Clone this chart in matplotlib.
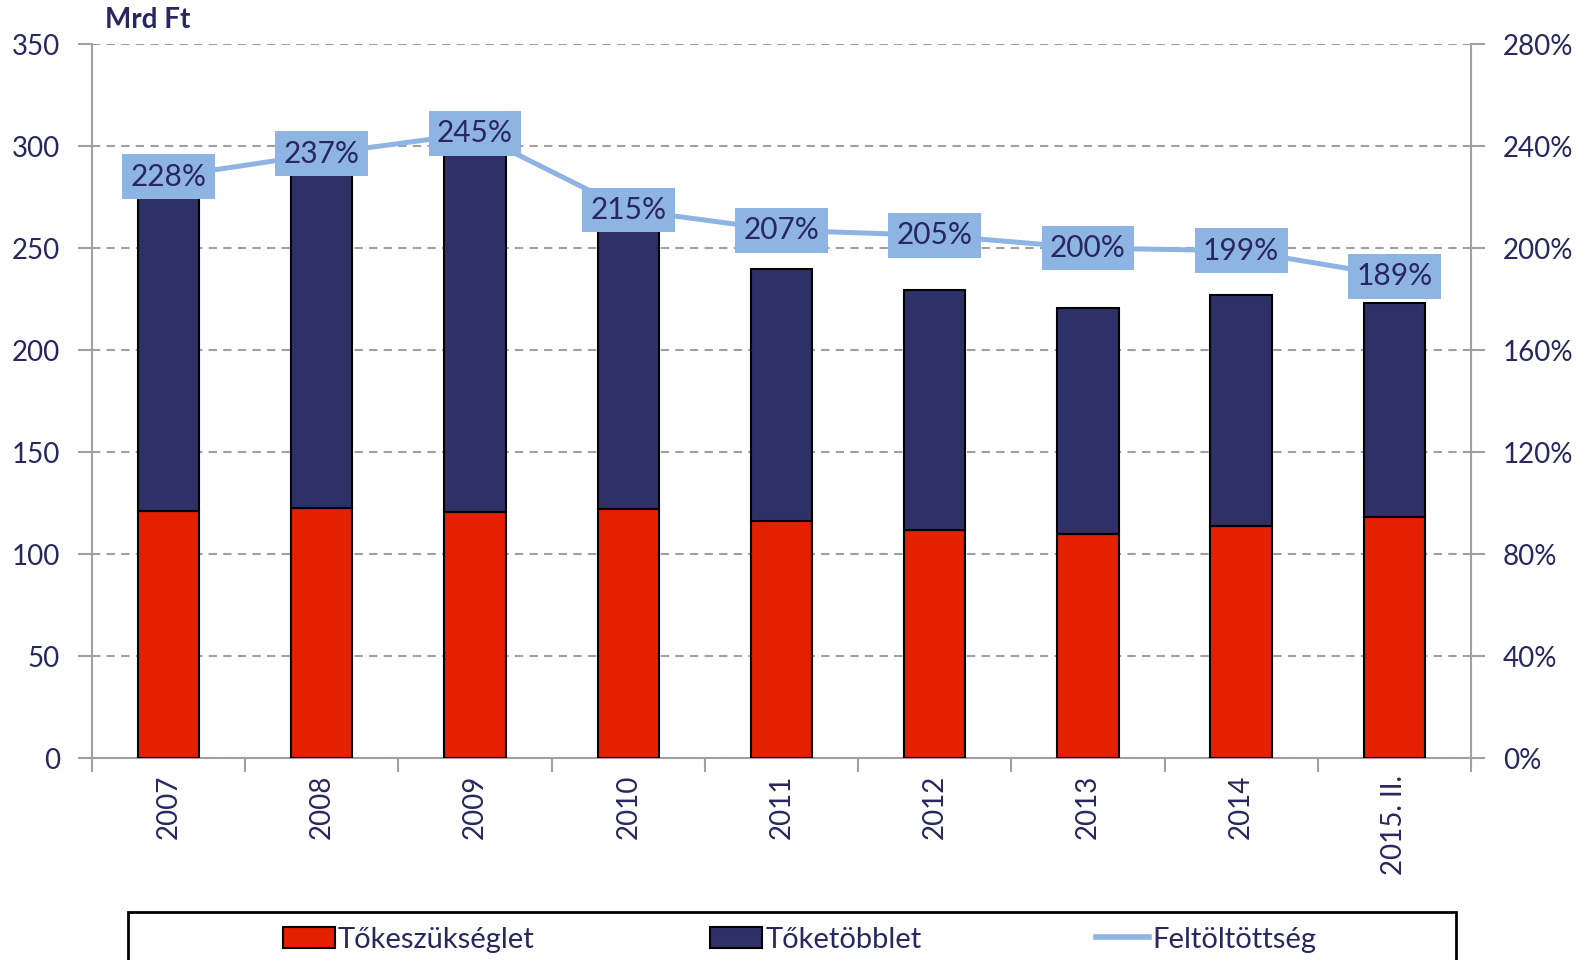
import numpy as np
import matplotlib.pyplot as plt
from matplotlib.patches import Patch, Rectangle
from matplotlib.lines import Line2D

# Data
years = ["2007", "2008", "2009", "2010", "2011", "2012", "2013", "2014", "2015. II."]
tokeszukseglet = [121, 122.5, 120.5, 122, 116, 112, 110, 114, 118]
toketobblet = [155, 168, 175, 140, 124, 117.5, 110.5, 113, 105]
feltoltottseg = [228, 237, 245, 215, 207, 205, 200, 199, 189]

RED = "#E32000"
NAVY = "#2E3068"
LIGHT = "#8DB4E2"
TEXT = "#28275E"
GRAY = "#A0A0A0"

plt.rcParams["font.family"] = ["Lato", "DejaVu Sans"]

fig = plt.figure(figsize=(15.89, 9.6), dpi=100)
ax = fig.add_axes([0.0579, 0.2104, 0.8678, 0.7436])

x = np.arange(len(years))
ax.bar(x, tokeszukseglet, width=0.4, color=RED, edgecolor="black", linewidth=1.5, zorder=3)
ax.bar(x, toketobblet, width=0.4, bottom=tokeszukseglet, color=NAVY,
       edgecolor="black", linewidth=1.5, zorder=3)

ax.set_xlim(-0.5, len(years) - 0.5)
ax.set_ylim(0, 350)
ax.set_yticks(range(0, 351, 50))
ax.yaxis.grid(True, linestyle=(0, (4, 3)), color=GRAY, linewidth=1.5, zorder=0)
ax.set_axisbelow(True)

ax.set_xticks(x)
ax.set_xticklabels(years, rotation=90, fontsize=20, color=TEXT)
ax.set_xticks(np.arange(-0.5, len(years)), minor=True)
ax.tick_params(axis="x", which="major", length=0, pad=12)
ax.tick_params(axis="x", which="minor", length=10, width=1.5, color=GRAY)
ax.tick_params(axis="y", length=10, width=1.5, color=GRAY, labelsize=20,
               labelcolor=TEXT, pad=13)

for s in ["top", "right"]:
    ax.spines[s].set_visible(False)
for s in ["left", "bottom"]:
    ax.spines[s].set_color(GRAY)
    ax.spines[s].set_linewidth(1.5)

# Right axis with the percentage line
ax2 = ax.twinx()
ax2.set_ylim(0, 280)
ax2.set_yticks(range(0, 281, 40))
ax2.set_yticklabels([f"{v}%" for v in range(0, 281, 40)])
ax2.tick_params(axis="y", length=10, width=1.5, color=GRAY, labelsize=20,
                labelcolor=TEXT, pad=13)
for s in ["top", "left", "bottom"]:
    ax2.spines[s].set_visible(False)
ax2.spines["right"].set_color(GRAY)
ax2.spines["right"].set_linewidth(1.5)

ax2.plot(x, feltoltottseg, color=LIGHT, linewidth=3.6, zorder=4)
for xi, v in zip(x, feltoltottseg):
    ax2.text(xi, v, f"{v}%", ha="center", va="center", fontsize=21.5, color=TEXT, zorder=5,
             bbox=dict(boxstyle="square,pad=0.28", fc=LIGHT, ec="none"))

fig.text(0.066, 0.966, "Mrd Ft", fontsize=20, fontweight="bold", color=TEXT,
         ha="left", va="bottom")

# Legend box runs off the bottom edge
fig.patches.append(Rectangle((0.0806, -0.05), 0.8357, 0.1, transform=fig.transFigure,
                             fill=False, edgecolor="black", linewidth=2, clip_on=False))
handles = [Patch(facecolor=RED, edgecolor="black", linewidth=1.5),
           Patch(facecolor=NAVY, edgecolor="black", linewidth=1.5),
           Line2D([0], [0], color=LIGHT, linewidth=4)]
fig.legend(handles, ["Tőkeszükséglet", "Tőketöbblet", "Feltöltöttség"], ncol=3,
           loc="center", bbox_to_anchor=(0.503, 0.021), frameon=False, fontsize=21,
           labelcolor=TEXT, handlelength=1.8, handleheight=0.75, handletextpad=0.1,
           columnspacing=6.0)

fig.savefig("out.png", dpi=100)
